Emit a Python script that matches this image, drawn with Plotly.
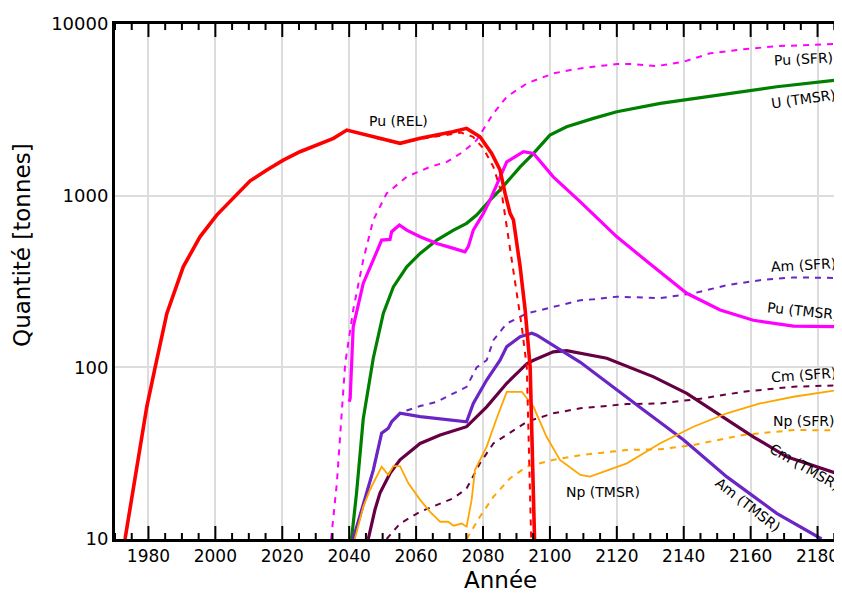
import math
import plotly.graph_objects as go

# ---- Data ----
pu_rel_x = [1973.0, 1976.5, 1979.5, 1982.0, 1985.5, 1990.4, 1995.4, 2000.4, 2005.9, 2010.4, 2015.4, 2020.3,
            2025.3, 2030.3, 2035.3, 2039.3, 2045.0, 2050.2, 2055.2, 2061.2, 2066.2, 2071.0, 2075.1, 2079.1,
            2082.6, 2085.1, 2086.6, 2088.1, 2089.1, 2091.1, 2092.6, 2094.1, 2095.4]
pu_rel_y = [10, 26.4, 58.9, 100, 206, 385, 576, 771, 1000, 1220, 1410, 1611,
            1803, 1972, 2158, 2410, 2260, 2108, 2017, 2158, 2254, 2360, 2466, 2203,
            1762, 1410, 1030, 788, 721, 385, 216, 100, 10]

pu_rel_d_x = [1973.0, 1976.5, 1979.5, 1982.0, 1985.5, 1990.4, 1995.4, 2000.4, 2005.9, 2010.4, 2015.4, 2020.3,
              2025.3, 2030.3, 2035.3, 2039.3, 2045.0, 2050.2, 2055.2, 2061.2, 2066.2, 2071.0, 2073.5, 2077.0,
              2080.1, 2083.1, 2085.6, 2087.1, 2089.6, 2091.6, 2093.1, 2094.4]
pu_rel_d_y = [10, 26.4, 58.9, 100, 206, 385, 576, 771, 1000, 1220, 1410, 1611,
              1803, 1972, 2158, 2410, 2260, 2108, 2017, 2140, 2220, 2300, 2330, 2200,
              1888, 1472, 1030, 659, 308, 172, 100, 10]

pu_sfr_x = [2034.6, 2036.3, 2037.3, 2038.8, 2041.2, 2044.2, 2047.2, 2049.7, 2051.2, 2057.2, 2064.2, 2069.2,
            2074.1, 2078.1, 2083.1, 2087.1, 2093.1, 2101.0, 2107.0, 2113.0, 2120.0, 2125.0, 2132.0, 2140.0,
            2147.9, 2157.8, 2167.8, 2178.8, 2189.7]
pu_sfr_y = [10, 21, 40, 105, 216, 422, 721, 902, 1030, 1288, 1472, 1574,
            1803, 2108, 3013, 3767, 4508, 5153, 5436, 5640, 5840, 5840, 5690, 6030,
            6750, 7120, 7430, 7560, 7700]

u_tmsr_x = [2040.7, 2042.2, 2044.2, 2047.2, 2050.2, 2053.2, 2057.2, 2061.2, 2066.2, 2071.2, 2075.1, 2078.1,
            2082.1, 2085.1, 2091.1, 2095.1, 2100.0, 2105.0, 2113.0, 2120.0, 2133.0, 2140.0, 2152.9, 2167.8, 2189.7]
u_tmsr_y = [10, 18.5, 50, 113, 206, 294, 385, 461, 551, 630, 690, 771,
            942, 1079, 1472, 1762, 2254, 2518, 2820, 3083, 3446, 3604, 3941, 4310, 4800]

pu_tmsr_x = [2040.0, 2040.3, 2041.2, 2044.2, 2047.2, 2049.7, 2052.2, 2052.7, 2055.0, 2057.2, 2061.2, 2066.2,
             2071.2, 2074.6, 2075.6, 2077.1, 2080.1, 2082.1, 2087.1, 2092.1, 2095.1, 2101.0, 2109.1, 2120.0,
             2131.0, 2140.9, 2150.9, 2160.8, 2172.8, 2189.7]
pu_tmsr_y = [63, 66, 172, 308, 422, 551, 556, 617, 675, 630, 576, 527,
             493, 471, 505, 630, 788, 942, 1574, 1803, 1762, 1288, 920, 576,
             385, 270, 216, 188, 174, 172]

am_sfr_x = [2041.2, 2044.2, 2047.2, 2049.7, 2051.7, 2052.7, 2055.2, 2057.2, 2061.2, 2066.2, 2071.2, 2075.1,
            2078.1, 2081.1, 2083.1, 2087.1, 2093.1, 2101.0, 2109.1, 2113.0, 2120.0, 2133.0, 2143.0, 2152.9,
            2162.8, 2172.8, 2189.7]
am_sfr_y = [10, 16.1, 25.2, 41.3, 44.2, 48.2, 54, 56, 59.5, 63, 70.4, 77,
            100, 110, 144, 180, 206, 225, 246, 249, 258, 253, 270, 301,
            322, 334, 331]

am_tmsr_x = [2041.2, 2044.2, 2047.2, 2049.7, 2051.7, 2052.7, 2055.2, 2061.2, 2066.2, 2075.1, 2077.1, 2081.1,
             2085.1, 2087.1, 2091.1, 2094.6, 2096.1, 2109.1, 2128.0, 2140.0, 2152.9, 2167.8, 2181.2]
am_tmsr_y = [10, 16.1, 25.2, 41.3, 44.2, 48.2, 54, 51.6, 50.4, 48.2, 61.7, 84.3,
             110, 132, 151, 158, 154, 107, 56.4, 37.7, 23, 14.1, 10]

cm_tmsr_x = [2045.7, 2047.7, 2049.2, 2052.2, 2055.2, 2061.2, 2067.2, 2075.1, 2081.1, 2087.1, 2093.1, 2095.1,
             2101.0, 2105.0, 2117.0, 2131.0, 2140.9, 2150.9, 2160.8, 2170.8, 2189.7]
cm_tmsr_y = [10, 14.8, 18.5, 24.1, 28.9, 36, 40.3, 45.1, 58.9, 80.7, 105, 110,
             123, 125, 113, 88, 70.6, 52.7, 39.4, 30.1, 22.7]

cm_sfr_x = [2051.2, 2055.2, 2061.2, 2071.2, 2075.1, 2079.1, 2083.1, 2089.1, 2093.1, 2101.0, 2109.1, 2123.0,
            2133.0, 2145.9, 2157.8, 2172.8, 2189.7]
cm_sfr_y = [10, 12.3, 14.4, 17.3, 19.7, 27.6, 36, 43.1, 48.2, 54, 57.7, 61.1,
            61.6, 66, 72.1, 77.1, 79]

np_tmsr_x = [2041.7, 2044.2, 2046.2, 2049.7, 2051.7, 2053.2, 2055.2, 2057.7, 2061.2, 2064.2, 2067.2, 2069.6,
             2071.2, 2073.6, 2075.1, 2076.6, 2077.6, 2081.1, 2084.1, 2087.1, 2091.6, 2095.1, 2099.0, 2103.0,
             2109.1, 2112.0, 2123.0, 2133.0, 2142.9, 2152.9, 2162.8, 2172.8, 2189.7]
np_tmsr_y = [10, 15.4, 19.3, 26.4, 23.6, 26.6, 26.6, 21.1, 16.9, 14.4, 12.6, 12.6,
             11.95, 12.3, 11.8, 16.9, 25.2, 34.5, 50.5, 72, 72, 58.9, 39.4, 28.9,
             23.6, 23.1, 27.6, 36.1, 45.1, 54, 61.6, 67.4, 75.5]

np_sfr_x = [2075.1, 2079.1, 2083.1, 2088.1, 2093.1, 2101.0, 2109.1, 2123.0, 2133.0, 2142.9, 2157.8, 2172.8, 2189.7]
np_sfr_y = [10, 13.5, 17.6, 22.6, 26.4, 28.9, 30.8, 33, 33.3, 35.3, 40.4, 43.1, 43]

x_range = [1970, 2189.7]
x_tickvals = [1980, 2000, 2020, 2040, 2060, 2080, 2100, 2120, 2140, 2160, 2180]
x_minor_step = 5
y_tickvals = [10, 100, 1000, 10000]
y_ticktext = ["10", "100", "1000", "10000"]

x_title = "Année"
y_title = "Quantité [tonnes]"

labels = ["Pu (REL)", "Pu (SFR)", "U (TMSR)", "Am (SFR)", "Pu (TMSR)", "Cm (SFR)", "Np (SFR)",
          "Cm (TMSR)", "Am (TMSR)", "Np (TMSR)"]
label_x = [2054.6, 2175.7, 2175.7, 2175.7, 2175.7, 2175.7, 2175.7, 2176.3, 2159.3, 2116.0]
label_y = [2716, 6245, 3652, 394, 213, 90, 48.6, 26.4, 15.8, 18.9]
label_angle = [0, -3, -8, -3, 6, -4, 0, 30, 38, 0]

RED = "#ff0000"
MAG = "#ff00ff"
GREEN = "#008000"
PURPLE = "#6a25c5"
MAROON = "#660044"
ORANGE = "#ffa500"

FONT = "'DejaVu Sans', sans-serif"

fig = go.Figure()

def add(x, y, color, width, dash="solid"):
    fig.add_trace(go.Scatter(x=x, y=y, mode="lines", line=dict(color=color, width=width, dash=dash),
                             showlegend=False, hoverinfo="skip"))

# dashed series
add(pu_sfr_x, pu_sfr_y, MAG, 2, "6px,6px")
add(am_sfr_x, am_sfr_y, PURPLE, 2, "6px,6px")
add(cm_sfr_x, cm_sfr_y, MAROON, 2, "6px,6px")
add(np_sfr_x, np_sfr_y, ORANGE, 2, "6px,6px")
# solid series
add(u_tmsr_x, u_tmsr_y, GREEN, 3.2)
add(pu_tmsr_x, pu_tmsr_y, MAG, 3.2)
add(cm_tmsr_x, cm_tmsr_y, MAROON, 3.2)
add(am_tmsr_x, am_tmsr_y, PURPLE, 3.2)
add(np_tmsr_x, np_tmsr_y, ORANGE, 1.8)
add(pu_rel_d_x, pu_rel_d_y, RED, 2, "6px,6px")
add(pu_rel_x, pu_rel_y, RED, 3.6)

# annotation y on a log axis is given in log10 units
for t, lx, ly, ang in zip(labels, label_x, label_y, label_angle):
    fig.add_annotation(x=lx, y=math.log10(ly), yref="y", xref="x", text=t, showarrow=False, textangle=ang,
                       font=dict(family=FONT, size=14, color="black"))

# axis titles placed as paper-anchored texts
fig.add_annotation(text=x_title, xref="paper", yref="paper", x=0.525, y=0, yanchor="middle", yshift=-41,
                   showarrow=False, font=dict(family=FONT, size=23, color="black"))
fig.add_annotation(text=y_title, xref="paper", yref="paper", x=0, y=0.571, xanchor="center", xshift=-93,
                   textangle=-90, showarrow=False, font=dict(family=FONT, size=23, color="black"))

# main axes: frame, grid, tick labels
fig.update_xaxes(range=x_range, tickvals=x_tickvals, ticks="",
                 showline=True, linecolor="black", linewidth=3, mirror=True,
                 showgrid=True, gridcolor="#dcdcdc", gridwidth=2, zeroline=False, automargin=False,
                 tickfont=dict(family=FONT, size=17, color="black"))
fig.update_yaxes(type="log", range=[1, 4], tickvals=y_tickvals, ticktext=y_ticktext, ticks="",
                 showline=True, linecolor="black", linewidth=3, mirror=True,
                 showgrid=True, gridcolor="#dcdcdc", gridwidth=2, zeroline=False, automargin=False,
                 tickfont=dict(family=FONT, size=18, color="black"))

# inward-pointing tick marks on all four sides (pixel-sized shapes anchored to tick values)
TICK = dict(color="black", width=2)
x_major = list(x_tickvals)
x_minor = [v for v in range(int(x_range[0]), int(x_range[1]) + 1, x_minor_step) if v not in x_tickvals]
for xv in x_major + x_minor:
    L = 13 if xv in x_major else 6
    for anchor, sign in ((0, 1), (1, -1)):
        fig.add_shape(type="line", xref="x", yref="paper", ysizemode="pixel", yanchor=anchor,
                      x0=xv, x1=xv, y0=0, y1=sign * L, line=TICK, layer="above")
y_major = [100, 1000]
y_minor = [m * 10 ** d for d in (1, 2, 3) for m in range(2, 10)]
for yv in y_major + y_minor:
    L = 13 if yv in y_major else 6
    for anchor, sign in ((0, 1), (1, -1)):
        fig.add_shape(type="line", yref="y", xref="paper", xsizemode="pixel", xanchor=anchor,
                      y0=math.log10(yv), y1=math.log10(yv), x0=0, x1=sign * L, line=TICK, layer="above")

# the page is shown with an 8px body offset, so margins compensate
fig.update_layout(width=842, height=586, margin=dict(l=107, r=0, t=16, b=55, autoexpand=False),
                  plot_bgcolor="white", paper_bgcolor="white", showlegend=False,
                  font=dict(family=FONT))

fig.write_html("out.html")
